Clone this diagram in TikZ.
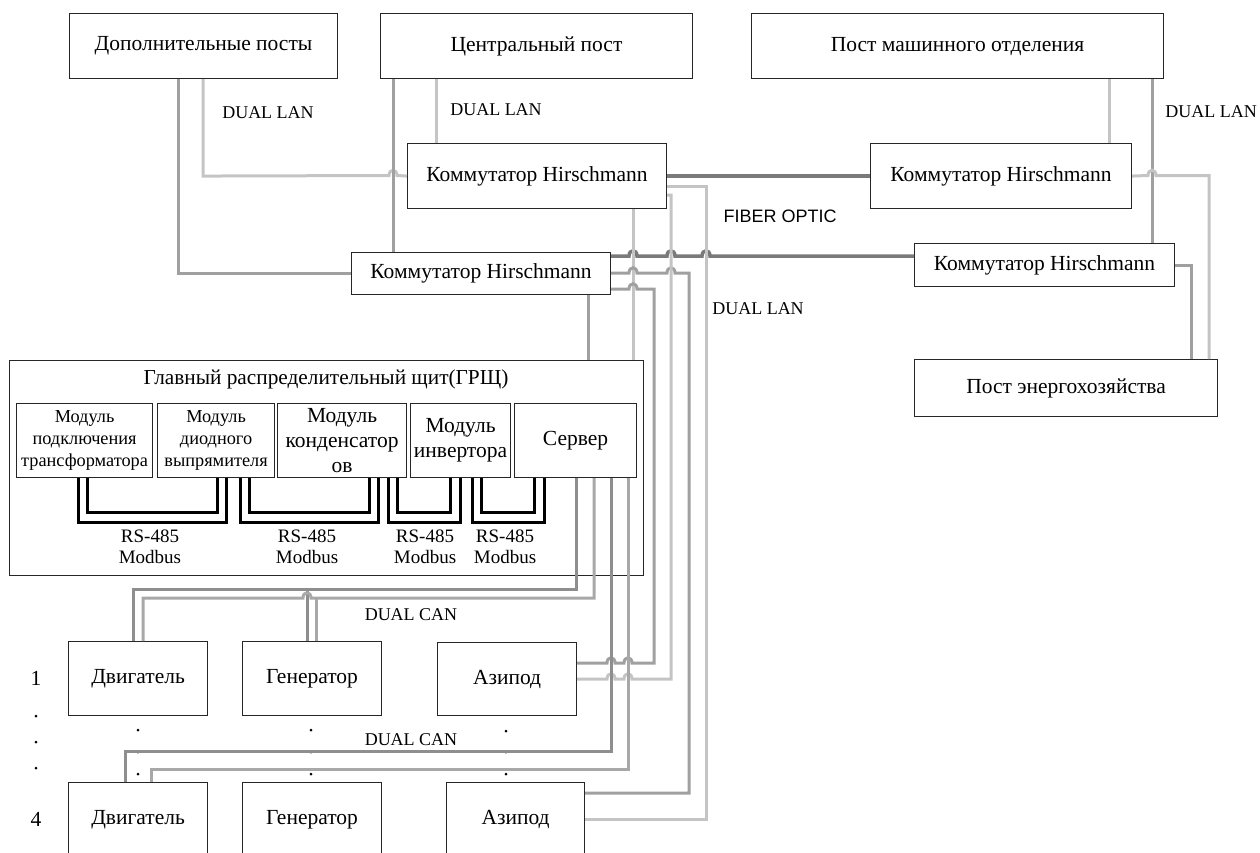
\documentclass[tikz,border=0pt]{standalone}
\usepackage{fontspec}
\setmainfont{Liberation Serif}
\newfontfamily\fibfont{Liberation Sans}
\definecolor{cfib}{HTML}{7A7A7A}
\definecolor{cmid}{HTML}{A0A0A0}
\definecolor{clt}{HTML}{C4C4C4}
\definecolor{ccan}{HTML}{8E8E8E}
\definecolor{ccantwo}{HTML}{A8A8A8}
\newcommand\hopR[2]{-- ({#1-4},#2) .. controls ({#1-4},{#2-7}) and ({#1+4},{#2-7}) .. ({#1+4},#2)}
\newcommand\hopL[2]{-- ({#1+4},#2) .. controls ({#1+4},{#2-7}) and ({#1-4},{#2-7}) .. ({#1-4},#2)}
\begin{document}
\begin{tikzpicture}[x=1pt,y=-1pt,
  box/.style={draw=black!85, line width=1.1pt, anchor=north west, inner sep=0pt, align=center, font=\fontsize{21.5}{25}\selectfont},
  modsm/.style={box, font=\fontsize{18.3}{22}\selectfont},
  modbg/.style={box, font=\fontsize{21.5}{25}\selectfont},
  lbl/.style={inner sep=0pt, font=\fontsize{18}{20}\selectfont},
  buslbl/.style={inner sep=0pt, align=center, font=\fontsize{19}{21}\selectfont},
  lanm/.style={draw=cmid, line width=3pt},
  lanl/.style={draw=clt, line width=3pt},
  fib/.style={draw=cfib, line width=3.5pt},
  canone/.style={draw=ccan, line width=3pt},
  cantwo/.style={draw=ccantwo, line width=3pt},
  bus/.style={draw=black, line width=3pt},
  dotm/.style={fill=black}
]
\useasboundingbox (0,0) rectangle (1260,852);
\clip (0,0) rectangle (1260,852);
% top posts
\node[box, minimum width=268pt, minimum height=65pt] (dop) at (69,13) {Дополнительные посты};
\node[box, minimum width=312pt, minimum height=65pt] (cen) at (380,13) {Центральный пост};
\node[box, minimum width=412pt, minimum height=65pt] (mash) at (751,13) {Пост машинного отделения};
% switches
\node[box, minimum width=259pt, minimum height=65pt] (swA) at (407,143) {Коммутатор Hirschmann};
\node[box, minimum width=261pt, minimum height=65pt] (swB) at (870,143) {Коммутатор Hirschmann};
\node[box, minimum width=259pt, minimum height=42pt] (swC) at (351,252) {Коммутатор Hirschmann};
\node[box, minimum width=260pt, minimum height=43pt] (swD) at (914,243) {Коммутатор Hirschmann};
\node[box, minimum width=303pt, minimum height=57pt] (ener) at (914,359) {Пост энергохозяйства};
% main switchboard
\node[box, minimum width=634pt, minimum height=215pt] (grsh) at (9,360) {};
\node[inner sep=0pt, font=\fontsize{21.3}{25}\selectfont] (grtitle) at (326,379) {Главный распределительный щит(ГРЩ)};
\node[modsm, minimum width=136pt, minimum height=74pt] (m1) at (16,403) {Модуль\\подключения\\трансформатора};
\node[modsm, minimum width=117pt, minimum height=74pt] (m2) at (157,403) {Модуль\\диодного\\выпрямителя};
\node[modbg, minimum width=129pt, minimum height=74pt] (m3) at (277,403) {Модуль\\конденсатор\\ов};
\node[modbg, minimum width=100pt, minimum height=74pt] (m4) at (410,403) {Модуль\\инвертора};
\node[modbg, minimum width=122pt, minimum height=74pt] (srv) at (514,403) {Сервер};
% RS-485 buses
\draw[bus] (78,0 |- m1.south) -- (78,522) -- (226,522) -- (226,0 |- m2.south);
\draw[bus] (87,0 |- m1.south) -- (87,512) -- (217,512) -- (217,0 |- m2.south);
\draw[bus] (240,0 |- m2.south) -- (240,522) -- (378,522) -- (378,0 |- m3.south);
\draw[bus] (249,0 |- m2.south) -- (249,512) -- (369,512) -- (369,0 |- m3.south);
\draw[bus] (388,0 |- m3.south) -- (388,522) -- (460,522) -- (460,0 |- m4.south);
\draw[bus] (397,0 |- m3.south) -- (397,512) -- (450,512) -- (450,0 |- m4.south);
\draw[bus] (472,0 |- m4.south) -- (472,522) -- (544,522) -- (544,0 |- srv.south);
\draw[bus] (481,0 |- m4.south) -- (481,512) -- (534,512) -- (534,0 |- srv.south);
\node[buslbl] (b1) at (150,547) {RS-485\\Modbus};
\node[buslbl] (b2) at (307,547) {RS-485\\Modbus};
\node[buslbl] (b3) at (425,547) {RS-485\\Modbus};
\node[buslbl] (b4) at (505,547) {RS-485\\Modbus};
% equipment
\node[box, minimum width=139pt, minimum height=74pt] (dv1) at (68,641) {Двигатель};
\node[box, minimum width=139pt, minimum height=74pt] (gen1) at (242,641) {Генератор};
\node[box, minimum width=139pt, minimum height=73pt] (az1) at (437,642) {Азипод};
\node[box, minimum width=139pt, minimum height=74pt] (dv4) at (68,782) {Двигатель};
\node[box, minimum width=139pt, minimum height=74pt] (gen4) at (242,782) {Генератор};
\node[box, minimum width=138pt, minimum height=74pt] (az4) at (446,782) {Азипод};
\node[inner sep=0pt, font=\fontsize{21.5}{25}\selectfont] (n1) at (36,678) {1};
\node[inner sep=0pt, font=\fontsize{21.5}{25}\selectfont] (n4) at (36,819) {4};
\foreach \px/\py in {36/716,36/742,36/768,138/730,138/752,138/774,311/730,311/752,311/774,506/731,506/752,506/774}
  \fill[dotm] (\px,\py) circle (1.5pt);
% labels
\node[lbl] (dl1) at (268,113) {DUAL LAN};
\node[lbl] (dl2) at (496,110) {DUAL LAN};
\node[lbl] (dl3) at (1211,112) {DUAL LAN};
\node[lbl] (dl4) at (758,309) {DUAL LAN};
\node[inner sep=0pt, font=\fibfont\fontsize{18}{20}\selectfont] (fo) at (780,216) {FIBER OPTIC};
\node[lbl] (dc1) at (411,615) {DUAL CAN};
\node[lbl] (dc2) at (411,740) {DUAL CAN};
% LAN connections
\draw[lanm] (178,0 |- dop.south) |- (swC.west);
\draw[lanl] (203,0 |- dop.south) -- (203,0 |- swA.west) \hopR{393}{175.5} -- (swA.west);
\draw[lanm] (393,0 |- cen.south) -- (393,0 |- swC.north);
\draw[lanl] (436,0 |- cen.south) -- (436,0 |- swA.north);
\draw[lanl] (1109,0 |- mash.south) -- (1109,0 |- swB.north);
\draw[lanm] (1152,0 |- mash.south) -- (1152,0 |- swD.north);
\draw[fib] (swA.east) -- (swB.west);
\draw[fib] (swC.east |- 0,256) \hopR{633}{256} \hopR{671}{256} \hopR{706}{256} -- (swD.west |- 0,256);
\draw[lanl] (swB.east) \hopR{1152}{175.5} -| (1209,0 |- ener.north);
\draw[lanm] (swD.east) -| (1191,0 |- ener.north);
\draw[lanm] (588,0 |- swC.south) -- (588,0 |- grsh.north);
\draw[lanl] (633,0 |- swA.south) -- (633,0 |- grsh.north);
\draw[lanm] (swC.east |- 0,273) \hopR{633}{273} \hopR{671}{273} -| (689,793) -- (az4.east |- 0,793);
\draw[lanm] (swC.east |- 0,289) \hopR{633}{289} -| (654,663) \hopL{628}{663} \hopL{611}{663} -- (az1.east |- 0,663);
\draw[lanl] (swA.east |- 0,186) -| (706,819) -- (az4.east |- 0,819);
\draw[lanl] (swA.east |- 0,195) -| (671,679) \hopL{628}{679} \hopL{611}{679} -- (az1.east |- 0,679);
% CAN connections
\draw[canone] (576,0 |- srv.south) |- (133,589) -- (133,0 |- dv1.north);
\draw[canone] (307,589) -- (307,0 |- gen1.north);
\draw[cantwo] (594,0 |- srv.south) -- (594,598) -- (316,598) \hopL{307}{598} -- (143,598) -- (143,0 |- dv1.north);
\draw[cantwo] (316,598) -- (316,0 |- gen1.north);
\draw[canone] (611,0 |- srv.south) |- (125,751) -- (125,0 |- dv4.north);
\draw[cantwo] (628,0 |- srv.south) |- (151,769) -- (151,0 |- dv4.north);
\end{tikzpicture}
\end{document}
